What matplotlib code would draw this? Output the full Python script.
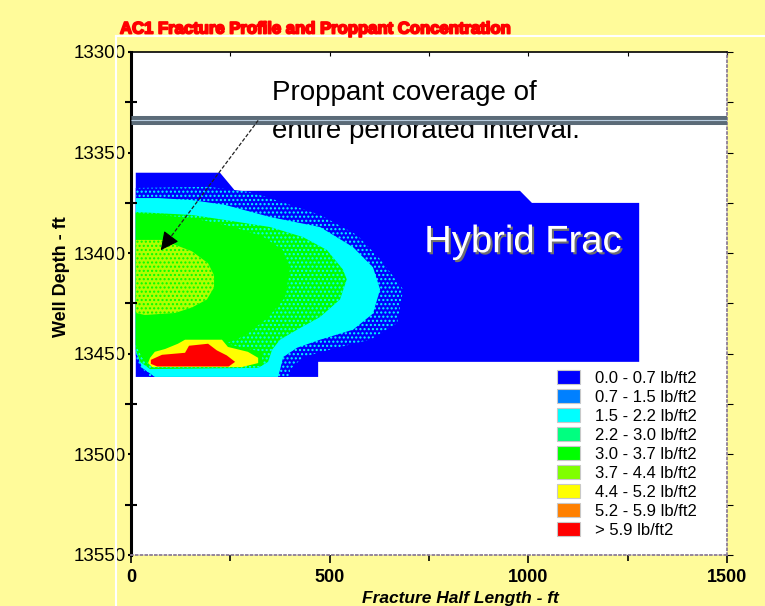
import numpy as np
import matplotlib

matplotlib.use("Agg")
import matplotlib.pyplot as plt
import matplotlib.patheffects as pe
from matplotlib.lines import Line2D
from matplotlib.patches import Patch, Polygon

plt.rcParams["font.family"] = ["Liberation Sans", "DejaVu Sans"]
plt.rcParams["hatch.linewidth"] = 1.0

title = "AC1 Fracture Profile and Proppant Concentration"

# clases de concentracion de agente de sosten
conc_labels = ["0.0 - 0.7 lb/ft2", "0.7 - 1.5 lb/ft2", "1.5 - 2.2 lb/ft2",
               "2.2 - 3.0 lb/ft2", "3.0 - 3.7 lb/ft2", "3.7 - 4.4 lb/ft2",
               "4.4 - 5.2 lb/ft2", "5.2 - 5.9 lb/ft2", "> 5.9 lb/ft2"]
conc_colors = ["#0000ff", "#0080ff", "#00ffff", "#00ff80", "#00ff00",
               "#80ff00", "#ffff00", "#ff8000", "#ff0000"]

# contorno de la fractura y bandas: media longitud (ft), profundidad (ft)
outline_x = [12, 224, 262, 979, 1009, 1279, 1279, 471, 471, 12]
outline_d = [13360, 13360, 13369, 13369, 13375, 13375, 13454, 13454, 13461.5, 13461.5]

c07_x = [12, 194, 300, 380, 476, 569, 627, 685, 670, 602, 518, 433, 400, 400, 48, 15, 12]
c07_d = [13367.6, 13367, 13369.6, 13374.6, 13381, 13391, 13403, 13418, 13434.7,
         13443, 13447, 13451.6, 13458, 13461.5, 13461.5, 13454.6, 13450.6]

c15_x = [12, 68, 153, 237, 350, 476, 559, 609, 627, 609, 559, 476, 418, 383, 375, 370, 60, 28, 12]
c15_d = [13372.6, 13372.6, 13373.6, 13376, 13382, 13387, 13397, 13407, 13418, 13430,
         13438, 13443, 13447, 13451.6, 13458, 13461.5, 13461.5, 13457, 13449]

c22_x = [12, 153, 237, 350, 433, 493, 533, 543, 526, 476, 418, 375, 355, 345, 320, 48, 23, 12]
c22_d = [13379.5, 13381, 13383.5, 13387, 13392, 13398.4, 13408, 13413, 13423, 13431.7,
         13438, 13443, 13448, 13454, 13457, 13457.6, 13454, 13448]

c30_x = [12, 153, 249, 330, 382, 400, 388, 345, 287, 237, 330, 330, 53, 28, 12]
c30_d = [13380, 13382.5, 13386.5, 13391.5, 13398.4, 13408, 13422, 13432, 13441,
         13445, 13449, 13456, 13456.6, 13452, 13445.6]

c37_x = [12, 78, 153, 194, 209, 209, 191, 153, 111, 35, 12]
c37_d = [13393.4, 13393.4, 13399, 13405, 13411, 13417, 13423, 13427, 13429.7, 13430.7, 13429.7]

c44_x = [48, 60, 86, 118, 136, 229, 244, 294, 320, 320, 279, 53, 43]
c44_d = [13452, 13449, 13447.6, 13445, 13443, 13443, 13446.6, 13449, 13452, 13454.6,
         13456.6, 13456.6, 13454.6]

c59_x = [50, 78, 136, 146, 194, 216, 241, 262, 246, 66, 50]
c59_d = [13453, 13450.5, 13449.5, 13446, 13445, 13448.3, 13450.8, 13454, 13456.3, 13456.3, 13455]

perf_depth = 13334
note_lines = ["Proppant coverage of", "entire perforated interval."]
note_x = 355
note_d = [13324, 13342.6]
arrow_start = (320, 13334)
arrow_tip = (75, 13398.5)
frac_label = "Hybrid Frac"
frac_label_x = 987
frac_label_d = 13399.5

xticks = [0, 500, 1000, 1500]
xminor = [250, 750, 1250]
yticks = [13300, 13350, 13400, 13450, 13500, 13550]
yminor = [13325, 13375, 13425, 13475, 13525]

fig = plt.figure(figsize=(7.65, 6.06), dpi=100, facecolor="#fffb9a")
ax = fig.add_axes([131 / 765, 51 / 606, 596 / 765, 503 / 606])
ax.set_facecolor("white")


def band(xs, ds, face, dots=None, z=1.0):
    poly = Polygon(np.column_stack([xs, ds]), closed=True, facecolor=face,
                   edgecolor=dots if dots else face, linewidth=0,
                   hatch="...." if dots else None, zorder=z)
    ax.add_patch(poly)


band(outline_x, outline_d, conc_colors[0], z=1.0)
band(c07_x, c07_d, conc_colors[0], dots=conc_colors[2], z=1.1)
band(c15_x, c15_d, conc_colors[2], z=1.2)
band(c22_x, c22_d, conc_colors[4], dots=conc_colors[2], z=1.3)
band(c30_x, c30_d, conc_colors[4], z=1.4)
band(c37_x, c37_d, "#b0ff00", dots=conc_colors[4], z=1.5)
band(c44_x, c44_d, conc_colors[6], z=1.6)
band(c59_x, c59_d, conc_colors[8], z=1.8)

ax.text(frac_label_x, frac_label_d, frac_label, color="white", fontsize=27.5,
        ha="center", va="baseline", zorder=3,
        path_effects=[pe.withSimplePatchShadow(offset=(1.5, -1.5), shadow_rgbFace="#707070", alpha=1)])

# intervalo perforado y nota
for line, d in zip(note_lines, note_d):
    ax.text(note_x, d, line, fontsize=20, ha="left", va="baseline", color="black", zorder=3)
ax.axhline(perf_depth, color="#5b6b78", lw=6.5, zorder=4, solid_capstyle="butt")
ax.axhline(perf_depth, color="#b8cde0", lw=0.8, zorder=4.1, solid_capstyle="butt")

ax.plot([arrow_start[0], arrow_tip[0]], [arrow_start[1], arrow_tip[1]],
        color="#222222", lw=0.9, dashes=(3, 1.5), zorder=5)
back = (arrow_tip[0] + 0.1 * (arrow_start[0] - arrow_tip[0]),
        arrow_tip[1] + 0.1 * (arrow_start[1] - arrow_tip[1]))
ax.annotate("", xy=arrow_tip, xytext=back, zorder=5,
            arrowprops=dict(arrowstyle="-|>,head_length=0.8,head_width=0.4",
                            color="black", lw=0.8, mutation_scale=14,
                            shrinkA=0, shrinkB=0))

ax.set_xlim(0, 1500)
ax.set_ylim(13550, 13300)
ax.set_xticks(xticks)
ax.set_xticks(xminor, minor=True)
ax.set_yticks(yticks)
ax.set_yticks(yminor, minor=True)
ax.set_xticklabels([str(v) for v in xticks], fontsize=13, fontweight="bold")
ax.set_yticklabels([str(v) for v in yticks], fontsize=13.5)
ax.tick_params(axis="x", which="major", direction="out", length=6, width=1.2, pad=4)
ax.tick_params(axis="x", which="minor", direction="out", length=4, width=1.2)
ax.tick_params(axis="y", which="major", direction="out", length=2.5, width=1.5, pad=1)
ax.tick_params(axis="y", which="minor", direction="inout", length=9, width=1.5)

ax.spines["left"].set_linewidth(2.2)
ax.spines["top"].set_linewidth(1.2)
for side in ("right", "bottom"):
    ax.spines[side].set_color("#8c7d96")
    ax.spines[side].set_linestyle(":")
    ax.spines[side].set_linewidth(1.3)

ax.set_ylabel("Well Depth - ft", fontsize=13, fontweight="bold")
ax.yaxis.set_label_coords((62 - 131) / 596, (555 - 277) / 503)
ax.yaxis.label.set_va("center")
ax.set_xlabel("Fracture Half Length - ft", fontsize=12.5, fontweight="bold", style="italic")
ax.xaxis.set_label_coords((460 - 131) / 596, (555 - 599) / 503)
ax.xaxis.label.set_va("center")

top = ax.secondary_xaxis("top")
top.set_xticks(xticks + xminor)
top.tick_params(direction="in", length=3, labeltop=False)
top.spines["top"].set_visible(False)
right = ax.secondary_yaxis("right")
right.set_yticks(yticks + yminor)
right.tick_params(direction="out", length=4, labelright=False)
right.spines["right"].set_visible(False)

handles = [Patch(facecolor=c, edgecolor="#c8c8c8", lw=0.8) for c in conc_colors]
ax.legend(handles, conc_labels, loc="upper left", bbox_to_anchor=(0.715, 0.368),
          frameon=False, fontsize=12, handlelength=1.38, handleheight=0.9,
          labelspacing=0.2, handletextpad=0.9, borderpad=0, borderaxespad=0)

fig.text(120 / 765, 1 - 29 / 606, title, color="#ff0000", fontsize=12, fontweight="bold",
         ha="left", va="center",
         path_effects=[pe.withStroke(linewidth=1.3, foreground="#ff0000")])
fig.add_artist(Line2D([116 / 765, 1], [1 - 36 / 606, 1 - 36 / 606], color="white",
                      lw=1.5, transform=fig.transFigure))
fig.add_artist(Line2D([116 / 765, 116 / 765], [0, 1 - 36 / 606], color="white",
                      lw=1.5, transform=fig.transFigure))

fig.savefig("out.png", dpi=100, facecolor=fig.get_facecolor())
